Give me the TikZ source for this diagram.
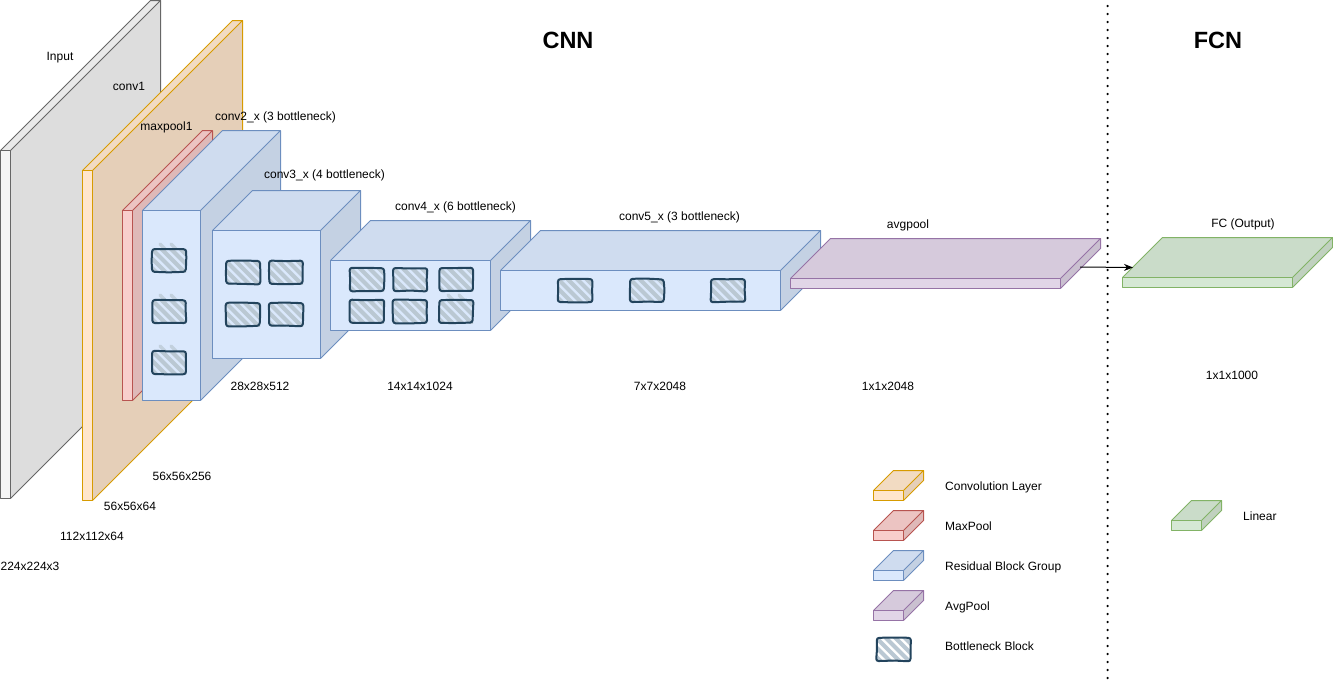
\documentclass[tikz,border=0pt]{standalone}
\usepackage{fontspec}
\setmainfont{Liberation Sans}
\usetikzlibrary{calc,arrows.meta}
\definecolor{gfill}{HTML}{F5F5F5}\definecolor{gline}{HTML}{666666}
\definecolor{ofill}{HTML}{FFE6CC}\definecolor{oline}{HTML}{D79B00}
\definecolor{rfill}{HTML}{F8CECC}\definecolor{rline}{HTML}{B85450}
\definecolor{bfill}{HTML}{DAE8FC}\definecolor{bline}{HTML}{6C8EBF}
\definecolor{pfill}{HTML}{E1D5E7}\definecolor{pline}{HTML}{9673A6}
\definecolor{nfill}{HTML}{D5E8D4}\definecolor{nline}{HTML}{82B366}
\definecolor{hatch}{HTML}{BAC8D3}\definecolor{ink}{HTML}{23445D}
\pgfmathsetseed{4242}
\tikzset{
  lab/.style={font=\fontsize{12}{14}\selectfont,inner sep=0pt,text=black,text height=9pt,text depth=0pt},
  leglab/.style={lab,anchor=west},
  headlab/.style={font=\bfseries\fontsize{23.5}{28}\selectfont,inner sep=0pt},
  facebox/.style={anchor=north west,inner sep=0pt,outer sep=0pt,line width=1pt},
  stripes/.style={anchor=north west,inner sep=0pt,outer sep=0pt,path picture={
    \foreach \i in {-40,-30.5,...,50}
      \draw[hatch,line width=4pt]
        ($(path picture bounding box.north west)+(\i,-2)$) -- ++(32,32);}},
  sketch/.style={draw=ink,line width=2pt,rounded corners=2.5pt,line join=round},
  ear/.style={hatch,line width=3.5pt,line cap=round,opacity=.75},
  sep/.style={line width=2.5pt,line cap=round,dash pattern=on 0pt off 8pt},
  conn/.style={line width=1pt,-{Stealth[length=9pt,width=7pt]}},
}
% name, x, y, w, h, depth, fill, line
\newcommand{\cubeblock}[8]{%
  \node[facebox,minimum width=#4pt,minimum height=#5pt] (#1) at (#2,#3) {};
  \fill[#7!90!black] (#1.north east) -- ++(#6,-#6) -- ($(#1.south east)+(#6,-#6)$) -- (#1.south east) -- cycle;
  \fill[#7!95!black] (#1.north west) -- ++(#6,-#6) -- ($(#1.north east)+(#6,-#6)$) -- (#1.north east) -- cycle;
  \draw[#8,line width=1pt,line join=round,fill=#7] (#1.north west) rectangle (#1.south east);
  \draw[#8,line width=1pt,line join=round] (#1.north west) -- ++(#6,-#6) -- ($(#1.north east)+(#6,-#6)$) -- ($(#1.south east)+(#6,-#6)$) -- (#1.south east)
    (#1.north east) -- ++(#6,-#6);
}
% name, x, y : hatched block with a hand-drawn outline
\newcommand{\bneck}[3]{%
  \node[stripes,minimum width=34pt,minimum height=23pt] (#1) at (#2,#3) {};
  \draw[sketch]
    ($(#1.north west)+(rand*.5,rand*.5)$) -- ($(#1.north)+(rand*.5,rand*.5)$) -- ($(#1.north east)+(rand*.5,rand*.5)$)
    -- ($(#1.east)+(rand*.5,rand*.5)$) -- ($(#1.south east)+(rand*.5,rand*.5)$) -- ($(#1.south)+(rand*.5,rand*.5)$)
    -- ($(#1.south west)+(rand*.5,rand*.5)$) -- ($(#1.west)+(rand*.5,rand*.5)$) -- cycle;
}
\begin{document}
\begin{tikzpicture}[x=1pt,y=-1pt]
\useasboundingbox (0,0) rectangle (1333,683);
\begin{scope}
\clip (0,0) rectangle (1333,683);
\cubeblock{input}{0.5}{150.5}{10}{348}{150}{gfill}{gline}
\cubeblock{convone}{82.5}{170.5}{10}{330}{150}{ofill}{oline}
\cubeblock{maxpool}{122.5}{210.5}{10}{190}{80}{rfill}{rline}
\cubeblock{convtwo}{142.5}{210.5}{58}{190}{80}{bfill}{bline}
\cubeblock{convthree}{212.5}{230.5}{108}{128}{40}{bfill}{bline}
\cubeblock{convfour}{330.5}{260.5}{160}{70}{40}{bfill}{bline}
\cubeblock{convfive}{500.5}{270.5}{280}{40}{40}{bfill}{bline}
\cubeblock{avgpool}{790.5}{278.5}{270}{10}{40}{pfill}{pline}
\cubeblock{fc}{1122.5}{277.5}{170}{10}{40}{nfill}{nline}
\end{scope}
% bottleneck blocks
\draw[ear] (160,244) -- (165,249) (171,244) -- (176,249);
\bneck{a1}{152}{249}
\draw[ear] (160,295) -- (165,300) (171,295) -- (176,300);
\bneck{a2}{152}{300}
\draw[ear] (160,346) -- (165,351) (171,346) -- (176,351);
\bneck{a3}{152}{351}
\bneck{b1}{226}{261}\bneck{b2}{269}{261}
\bneck{b3}{226}{303}\bneck{b4}{269}{303}
\bneck{c1}{350}{268}\bneck{c2}{393}{268}\bneck{c3}{439}{268}
\draw[ear] (448,295) -- (453,300) (459,295) -- (464,300);
\bneck{c4}{350}{300}\bneck{c5}{393}{300}\bneck{c6}{439}{300}
\bneck{d1}{558}{279}\bneck{d2}{630}{279}\bneck{d3}{711}{279}
% separator
\coordinate (septop) at (1107.5,6);
\coordinate (sepbot) at (1107.5,681);
\draw[sep] (septop) -- (sepbot);
% connector
\coordinate (avgout) at (1080,267);
\coordinate (fcin) at (1133,267.5);
\draw[conn] (avgout) -- (fcin);
% labels
\node[lab] (l1) at (60,56) {Input};
\node[lab] (l2) at (129,86) {conv1};
\node[lab] (l3) at (166.5,126) {maxpool1};
\node[lab] (l4) at (275.5,116) {conv2\_x (3 bottleneck)};
\node[lab] (l5) at (324.5,174) {conv3\_x (4 bottleneck)};
\node[lab] (l6) at (455.5,206) {conv4\_x (6 bottleneck)};
\node[lab] (l7) at (679.5,216) {conv5\_x (3 bottleneck)};
\node[lab] (l8) at (908,224) {avgpool};
\node[lab] (l9) at (1243,223) {FC (Output)};
\node[lab] (s1) at (30,566) {224x224x3};
\node[lab] (s2) at (92,536) {112x112x64};
\node[lab] (s3) at (130,506) {56x56x64};
\node[lab] (s4) at (182,476) {56x56x256};
\node[lab] (s5) at (260,386) {28x28x512};
\node[lab] (s6) at (420,386) {14x14x1024};
\node[lab] (s7) at (660,386) {7x7x2048};
\node[lab] (s8) at (888,386) {1x1x2048};
\node[lab] (s9) at (1232,375) {1x1x1000};
\node[headlab] (cnn) at (568,40) {CNN};
\node[headlab] (fcn) at (1218,40) {FCN};
% legend
\cubeblock{kconv}{873.5}{490.5}{30}{10}{20}{ofill}{oline}
\cubeblock{kmax}{873.5}{530.5}{30}{10}{20}{rfill}{rline}
\cubeblock{kres}{873.5}{570.5}{30}{10}{20}{bfill}{bline}
\cubeblock{kavg}{873.5}{610.5}{30}{10}{20}{pfill}{pline}
\cubeblock{klin}{1171.5}{520.5}{30}{10}{20}{nfill}{nline}
\bneck{kneck}{876.5}{638}
\node[leglab] (t1) at (945,486) {Convolution Layer};
\node[leglab] (t2) at (945,526) {MaxPool};
\node[leglab] (t3) at (945,566) {Residual Block Group};
\node[leglab] (t4) at (945,606) {AvgPool};
\node[leglab] (t5) at (945,646) {Bottleneck Block};
\node[leglab] (t6) at (1243,516) {Linear};
\end{tikzpicture}
\end{document}
